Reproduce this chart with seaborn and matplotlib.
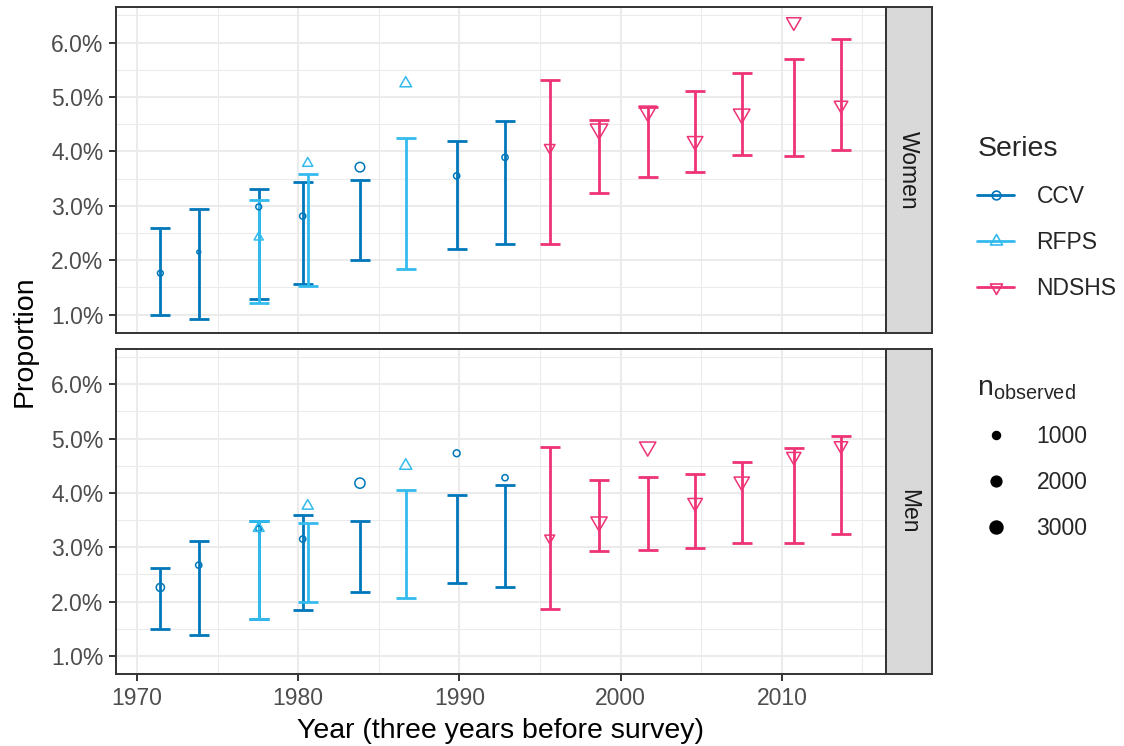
import matplotlib
matplotlib.use("Agg")
import numpy as np
import pandas as pd
import matplotlib.pyplot as plt
from matplotlib.lines import Line2D
from matplotlib.path import Path
from matplotlib.ticker import FuncFormatter, MultipleLocator
import seaborn as sns

# ---------------- data (values in percent) ----------------
series_names = ["CCV", "RFPS", "NDSHS"]
series_colors = ["#0077BB", "#33BBEE", "#EE3377"]
panel_names = ["Women", "Men"]

ccv_year = [1971.45, 1973.83, 1977.55, 1980.28, 1983.83, 1989.83, 1992.83]
rfps_year = [1977.55, 1980.59, 1986.67]
ndshs_year = [1995.60, 1998.66, 2001.68, 2004.62, 2007.51, 2010.74, 2013.67]

women_ccv_est = [1.76, 2.15, 2.98, 2.81, 3.71, 3.55, 3.89]
women_ccv_lo = [1.00, 0.92, 1.29, 1.56, 2.01, 2.21, 2.29]
women_ccv_hi = [2.60, 2.94, 3.30, 3.43, 3.48, 4.19, 4.56]
women_ccv_n = [400, 50, 400, 500, 1500, 500, 500]

women_rfps_est = [2.42, 3.78, 5.25]
women_rfps_lo = [1.22, 1.53, 1.83]
women_rfps_hi = [3.10, 3.59, 4.25]
women_rfps_n = [650, 850, 1200]

women_ndshs_est = [4.07, 4.41, 4.74, 4.19, 4.69, 6.38, 4.85]
women_ndshs_lo = [2.30, 3.24, 3.52, 3.63, 3.94, 3.92, 4.03]
women_ndshs_hi = [5.31, 4.58, 4.81, 5.11, 5.45, 5.70, 6.07]
women_ndshs_n = [950, 3000, 3100, 2300, 2650, 2000, 1700]

men_ccv_est = [2.26, 2.67, 3.34, 3.15, 4.18, 4.73, 4.28]
men_ccv_lo = [1.49, 1.39, 1.67, 1.85, 2.17, 2.34, 2.27]
men_ccv_hi = [2.62, 3.12, 3.48, 3.59, 3.49, 3.97, 4.14]
men_ccv_n = [1050, 500, 400, 500, 1750, 650, 500]

men_rfps_est = [3.35, 3.76, 4.50]
men_rfps_lo = [1.67, 1.99, 2.06]
men_rfps_hi = [3.48, 3.45, 4.05]
men_rfps_n = [1000, 1050, 1300]

men_ndshs_est = [3.17, 3.47, 4.85, 3.82, 4.21, 4.67, 4.87]
men_ndshs_lo = [1.86, 2.93, 2.95, 2.98, 3.08, 3.08, 3.25]
men_ndshs_hi = [4.85, 4.24, 4.30, 4.34, 4.57, 4.83, 5.04]
men_ndshs_n = [800, 2550, 2550, 2000, 2250, 1900, 1700]

legend_n = [1000, 2000, 3000]
x_ticks = [1970, 1980, 1990, 2000, 2010]
y_ticks = [1, 2, 3, 4, 5, 6]

# ---------------- tidy frame ----------------
def block(sex, series, year, est, lo, hi, n):
    return pd.DataFrame({"sex": sex, "series": series, "year": year,
                         "est": est, "lo": lo, "hi": hi, "n": n})

df = pd.concat([
    block("Women", "CCV", ccv_year, women_ccv_est, women_ccv_lo, women_ccv_hi, women_ccv_n),
    block("Women", "RFPS", rfps_year, women_rfps_est, women_rfps_lo, women_rfps_hi, women_rfps_n),
    block("Women", "NDSHS", ndshs_year, women_ndshs_est, women_ndshs_lo, women_ndshs_hi, women_ndshs_n),
    block("Men", "CCV", ccv_year, men_ccv_est, men_ccv_lo, men_ccv_hi, men_ccv_n),
    block("Men", "RFPS", rfps_year, men_rfps_est, men_rfps_lo, men_rfps_hi, men_rfps_n),
    block("Men", "NDSHS", ndshs_year, men_ndshs_est, men_ndshs_lo, men_ndshs_hi, men_ndshs_n),
], ignore_index=True)

# ---------------- style ----------------
sns.set_theme(style="white")
plt.rcParams['font.family'] = ['Liberation Sans', 'DejaVu Sans']
plt.rcParams['mathtext.fontset'] = 'custom'
plt.rcParams['mathtext.rm'] = 'Liberation Sans'
plt.rcParams['mathtext.it'] = 'Liberation Sans:italic'

SMALL = 16.5
LARGE = 20.5
TICK_COL = "#4D4D4D"
DARK = "#333333"

W, H = 1124, 746
fig = plt.figure(figsize=(W / 100, H / 100), dpi=100)

def fx(px):
    return px / W

def fy(py):
    return 1 - py / H

s3 = np.sqrt(3)
tri_up = Path([(0, 2 / s3), (-1, -1 / s3), (1, -1 / s3), (0, 2 / s3)],
              [Path.MOVETO, Path.LINETO, Path.LINETO, Path.CLOSEPOLY])
tri_down = Path([(0, -2 / s3), (-1, 1 / s3), (1, 1 / s3), (0, -2 / s3)],
                [Path.MOVETO, Path.LINETO, Path.LINETO, Path.CLOSEPOLY])
series_markers = {"CCV": "o", "RFPS": tri_up, "NDSHS": tri_down}
tri_factor = 2.418
size_lo, size_hi = 6.4, 6.4 + 0.0272 * 3000

panel_left, panel_right, strip_right = 115.7, 886.0, 931.7
panel_rows = [(7.3, 333.0), (349.0, 674.3)]

axes = []
for i, sex in enumerate(panel_names):
    top, bot = panel_rows[i]
    ax = fig.add_axes([fx(panel_left), fy(bot), fx(panel_right - panel_left), (bot - top) / H])
    axes.append(ax)
    sub_all = df[df["sex"] == sex]
    # error bars
    for name, col in zip(series_names, series_colors):
        sub = sub_all[sub_all["series"] == name]
        mid = (sub["lo"] + sub["hi"]) / 2
        half = (sub["hi"] - sub["lo"]) / 2
        ax.errorbar(sub["year"], mid, yerr=half, fmt="none", ecolor=col,
                    elinewidth=2.0, capsize=7.2, capthick=2.0, zorder=2)
    # points
    for name, col in zip(series_names, series_colors):
        sub = sub_all[sub_all["series"] == name]
        m = series_markers[name]
        k = 1.0 if name == "CCV" else tri_factor
        sns.scatterplot(data=sub, x="year", y="est", size="n",
                        sizes=(size_lo * k, size_hi * k), size_norm=(0, 3000),
                        marker=m, facecolor="none", edgecolor=col, linewidth=1.1,
                        legend=False, ax=ax, zorder=3)
    ax.set_xlim(1968.68, 2016.46)
    ax.set_ylim(0.66, 6.65)
    ax.set_xticks(x_ticks)
    ax.xaxis.set_minor_locator(MultipleLocator(5))
    ax.set_yticks(y_ticks)
    ax.yaxis.set_minor_locator(MultipleLocator(0.5))
    ax.yaxis.set_major_formatter(FuncFormatter(lambda v, p: f"{v:.1f}%"))
    ax.grid(which="major", color="#EBEBEB", lw=1.45)
    ax.grid(which="minor", color="#EBEBEB", lw=0.75)
    ax.set_axisbelow(True)
    ax.set_xlabel("")
    ax.set_ylabel("")
    for sp in ax.spines.values():
        sp.set_color(DARK)
        sp.set_linewidth(1.4)
    ax.tick_params(axis="both", which="major", length=4.8, width=1.4, color=DARK,
                   labelsize=SMALL, labelcolor=TICK_COL, pad=4)
    ax.tick_params(axis="both", which="minor", length=0)
    ax.tick_params(axis="y", left=True, right=False)
    if i == 0:
        ax.tick_params(axis="x", which="major", bottom=False, labelbottom=False)
    else:
        ax.tick_params(axis="x", which="major", bottom=True)

    # facet strip
    sax = fig.add_axes([fx(panel_right), fy(bot), fx(strip_right - panel_right), (bot - top) / H])
    sax.set_facecolor("#D9D9D9")
    sax.set_xticks([])
    sax.set_yticks([])
    for sp in sax.spines.values():
        sp.set_color(DARK)
        sp.set_linewidth(1.4)
    sax.text(0.5, 0.5, sex, rotation=-90, ha="center", va="center",
             fontsize=SMALL, color="#1A1A1A", transform=sax.transAxes)

fig.text(fx(500.9), fy(731), "Year (three years before survey)", ha="center", va="center",
         fontsize=LARGE, color="black")
fig.text(fx(25), fy(340.8), "Proportion", ha="center", va="center", rotation=90,
         fontsize=LARGE, color="black")

# ---------------- legends ----------------
leg_markers_ms = {"CCV": 6.3, "RFPS": 10.0, "NDSHS": 10.0}
h1 = [Line2D([0], [0], color=c, lw=2.0, marker=series_markers[nm], markersize=leg_markers_ms[nm],
             markerfacecolor="none", markeredgecolor=c, markeredgewidth=1.2)
      for nm, c in zip(series_names, series_colors)]
leg1 = fig.legend(h1, series_names, title="Series", loc="upper left",
                  bbox_to_anchor=(fx(966), fy(125)), frameon=False, fontsize=SMALL,
                  title_fontsize=LARGE, handlelength=1.6, handletextpad=0.98,
                  labelspacing=1.0, borderpad=0, alignment="left")

h2 = [Line2D([0], [0], ls="none", marker="o", color="black",
             markersize=np.sqrt(size_lo + (size_hi - size_lo) * v / 3000))
      for v in legend_n]
leg2 = fig.legend(h2, [str(v) for v in legend_n], title=r"n$_{\mathregular{observed}}$",
                  loc="upper left", bbox_to_anchor=(fx(966), fy(364)), frameon=False,
                  fontsize=SMALL, title_fontsize=LARGE, handlelength=1.6,
                  handletextpad=0.98, labelspacing=1.0, borderpad=0, alignment="left")

fig.savefig("out.png", dpi=100)
